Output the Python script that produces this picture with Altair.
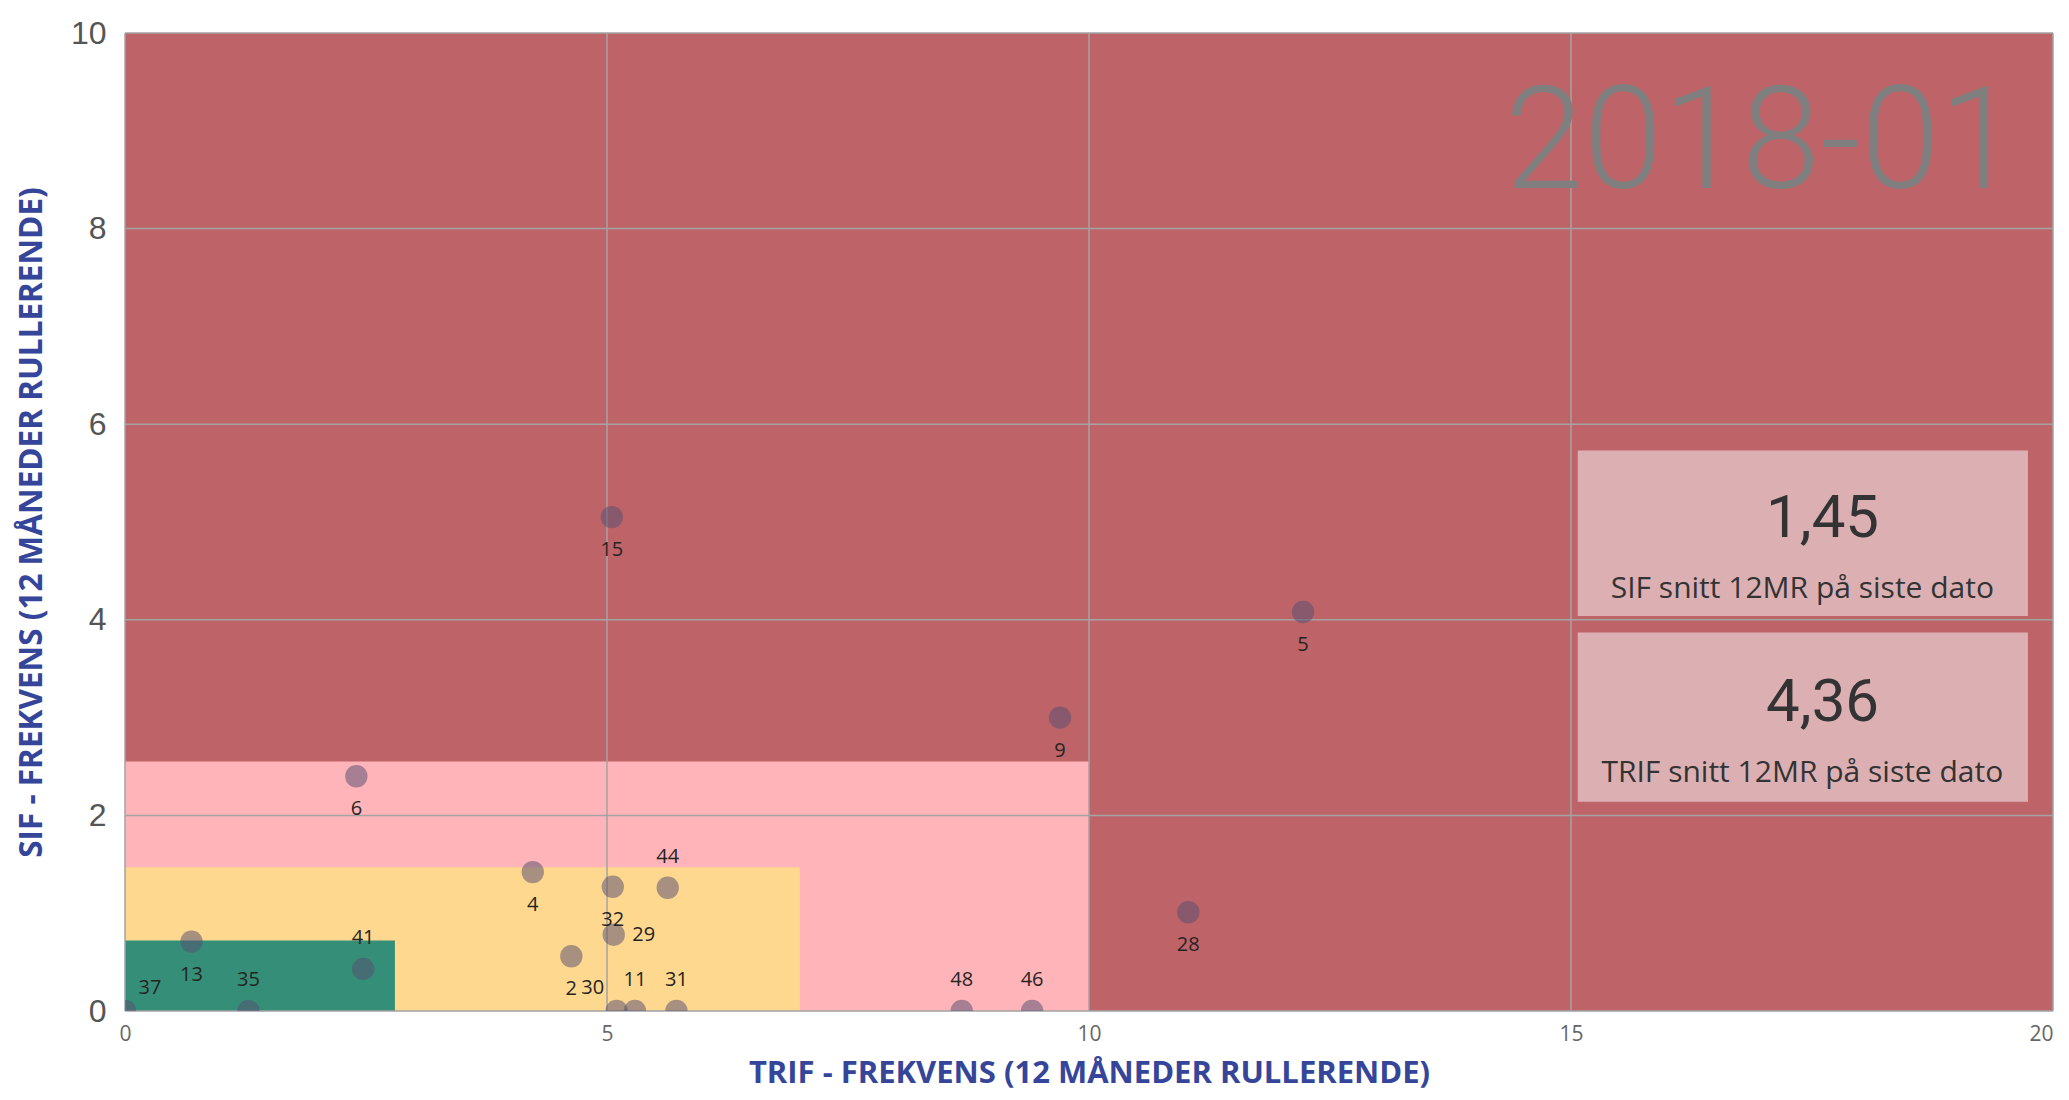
import altair as alt
import pandas as pd

# ---- data ----
ids = ["15", "5", "9", "6", "28", "4", "32", "44", "29", "2", "30", "11", "31", "48", "46", "13", "35", "37", "41"]
trif = [5.05, 12.22, 9.70, 2.40, 11.03, 4.23, 5.06, 5.63, 5.07, 4.63, 5.10, 5.29, 5.72, 8.68, 9.41, 0.69, 1.28, 0.00, 2.47]
sif = [5.05, 4.08, 3.00, 2.40, 1.01, 1.42, 1.27, 1.26, 0.78, 0.56, 0.00, 0.00, 0.00, 0.00, 0.00, 0.71, 0.00, 0.00, 0.43]

zone_names = ["rød", "rosa", "gul", "grønn"]
zone_trif_max = [20, 10, 7, 2.8]
zone_sif_max = [10, 2.55, 1.47, 0.72]
zone_colors = ["#BE6468", "#FFB4B9", "#FED88E", "#358F78"]

x_ticks = [0, 5, 10, 15, 20]
y_ticks = [0, 2, 4, 6, 8, 10]

period = "2018-01"
kpi_values = ["1,45", "4,36"]
kpi_labels = ["SIF snitt 12MR på siste dato", "TRIF snitt 12MR på siste dato"]

# label placement (style)
label_place = {
    "15": "below", "5": "below", "9": "below", "6": "below", "28": "below",
    "4": "below", "32": "below", "44": "above", "29": "right", "2": "below",
    "30": "aboveleft", "11": "above", "31": "above", "48": "above", "46": "above",
    "13": "below", "35": "above", "37": "aboveright", "41": "above",
}
offsets = {"below": (0, 33), "above": (0, -31), "right": (30, 0),
           "aboveleft": (-24, -23), "aboveright": (25, -23)}

# ---- tables ----
pts = pd.DataFrame({"id": ids, "trif": trif, "sif": sif})
pts["place"] = [label_place[i] for i in ids]

zones = pd.DataFrame({"zone": zone_names, "x0": 0, "x1": zone_trif_max,
                      "y0": 0, "y1": zone_sif_max, "color": zone_colors})
xg = pd.DataFrame({"v": x_ticks})
yg = pd.DataFrame({"v": y_ticks})

W, H = 1928, 978
xs = alt.Scale(domain=[0, 20], nice=False, zero=True)
ys = alt.Scale(domain=[0, 10], nice=False, zero=True)

x_axis = alt.Axis(values=x_ticks, format="d", grid=False, domain=False, ticks=False, labelFlush=False,
                  labelAlign={"condition": {"test": "datum.value >= 20", "value": "right"},
                              "value": "center"},
                  labelFont="Open Sans", labelFontSize=21, labelColor="#666666", labelPadding=12,
                  title="TRIF - FREKVENS (12 MÅNEDER RULLERENDE)", titleFont="Open Sans",
                  titleFontSize=31, titleFontWeight="bold", titleColor="#34459A",
                  titleX=W / 2, titleY=62, titleBaseline="middle", titleAlign="center")
y_axis = alt.Axis(values=y_ticks, format="d", grid=False, domain=False, ticks=False,
                  labelFont="Liberation Sans Narrow, Liberation Sans", labelFontSize=32,
                  labelColor="#555555", labelPadding=19,
                  title="SIF - FREKVENS (12 MÅNEDER RULLERENDE)", titleFont="Open Sans",
                  titleFontSize=31.5, titleFontWeight="bold", titleColor="#34459A",
                  titleX=-93, titleY=H / 2, titleAngle=-90, titleBaseline="middle", titleAlign="center")

zone_layer = alt.Chart(zones).mark_rect().encode(
    x=alt.X("x0:Q", scale=xs, axis=x_axis),
    x2="x1:Q",
    y=alt.Y("y0:Q", scale=ys, axis=y_axis),
    y2="y1:Q",
    color=alt.Color("color:N", scale=None),
    order=alt.Order("y1:Q", sort="descending"),
)

vgrid = alt.Chart(xg).mark_rule(color="#A3A3A3", strokeWidth=1.5).encode(
    x=alt.X("v:Q", scale=xs))
hgrid = alt.Chart(yg).mark_rule(color="#A3A3A3", strokeWidth=1.5).encode(
    y=alt.Y("v:Q", scale=ys))

points = alt.Chart(pts).mark_circle(size=500, color="#574E72", opacity=0.52, clip=True).encode(
    x=alt.X("trif:Q", scale=xs), y=alt.Y("sif:Q", scale=ys))

label_layers = []
for place, (dx, dy) in offsets.items():
    label_layers.append(
        alt.Chart(pts).transform_filter(alt.datum.place == place).mark_text(
            font="Open Sans", fontSize=20, color="#252423", dx=dx, dy=dy,
            align="center", baseline="middle").encode(
            x=alt.X("trif:Q", scale=xs), y=alt.Y("sif:Q", scale=ys), text="id:N"))

# period stamp
stamp = alt.Chart(pd.DataFrame({"t": [period], "x": [19.64], "y": [8.42]})).mark_text(
    font="Roboto", fontWeight=300, fontSize=142, color="#7F7F7F", align="right",
    baseline="alphabetic").encode(x=alt.X("x:Q", scale=xs), y=alt.Y("y:Q", scale=ys), text="t:N")

# KPI cards
cards = pd.DataFrame({
    "val": kpi_values, "lab": kpi_labels,
    "x0": [15.07, 15.07], "x1": [19.74, 19.74],
    "y0": [5.73, 3.87], "y1": [4.04, 2.14],
    "xv": [17.61, 17.61], "xl": [17.40, 17.40],
    "yv": [5.03, 3.15], "yl": [4.31, 2.43],
})
card_rect = alt.Chart(cards).mark_rect(color="#DCB0B3").encode(
    x=alt.X("x0:Q", scale=xs), x2="x1:Q", y=alt.Y("y0:Q", scale=ys), y2="y1:Q")
card_val = alt.Chart(cards).mark_text(font="Roboto", fontSize=60, color="#333333",
                                      align="center", baseline="middle").encode(
    x=alt.X("xv:Q", scale=xs), y=alt.Y("yv:Q", scale=ys), text="val:N")
card_lab = alt.Chart(cards).mark_text(font="Open Sans", fontSize=30, color="#333333",
                                      align="center", baseline="middle").encode(
    x=alt.X("xl:Q", scale=xs), y=alt.Y("yl:Q", scale=ys), text="lab:N")

chart = alt.layer(zone_layer, vgrid, hgrid, points, *label_layers, stamp,
                  card_rect, card_val, card_lab).properties(
    width=W, height=H,
    autosize=alt.AutoSizeParams(type="none"),
    padding={"left": 117, "top": 25, "right": 8, "bottom": 80},
    background="white",
).configure_view(stroke=None)

chart.save("out.html", embed_options={"renderer": "svg", "actions": False})
